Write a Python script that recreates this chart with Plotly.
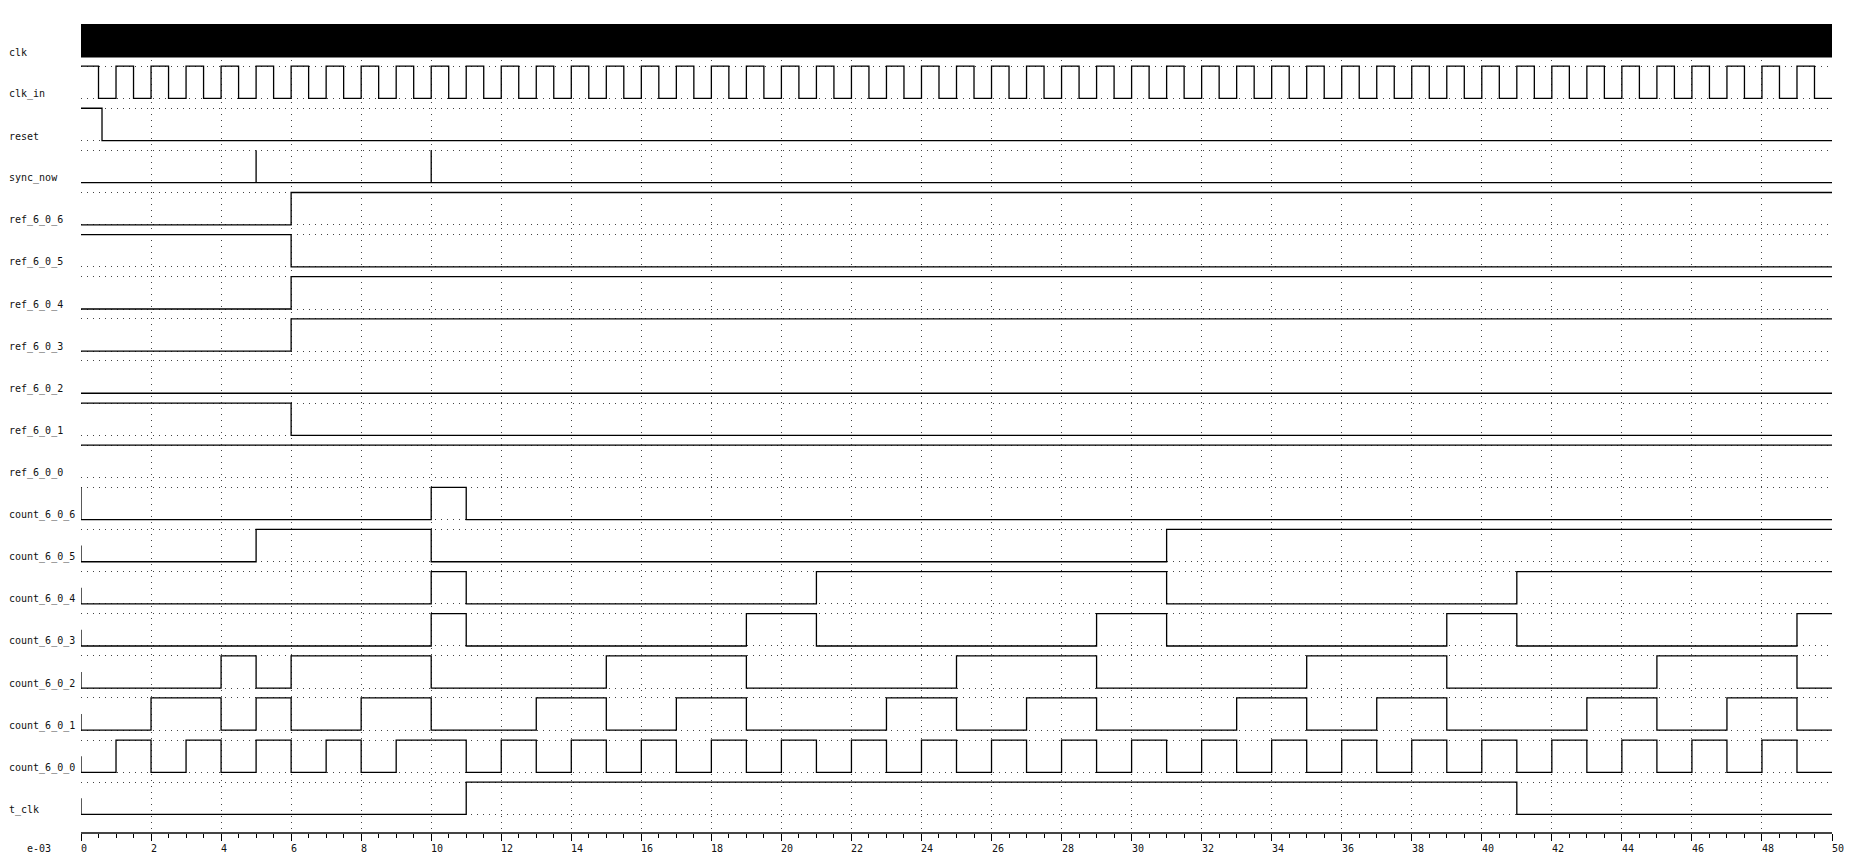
import plotly.graph_objects as go

# ---------------- data ----------------
signal_names = ["clk", "clk_in", "reset", "sync_now",
                "ref_6_0_6", "ref_6_0_5", "ref_6_0_4", "ref_6_0_3",
                "ref_6_0_2", "ref_6_0_1", "ref_6_0_0",
                "count_6_0_6", "count_6_0_5", "count_6_0_4", "count_6_0_3",
                "count_6_0_2", "count_6_0_1", "count_6_0_0", "t_clk"]

time_tick_labels = [0, 2, 4, 6, 8, 10, 12, 14, 16, 18, 20, 22, 24, 26, 28, 30,
                    32, 34, 36, 38, 40, 42, 44, 46, 48, 50]
time_unit_label = "e-03"
time_range = [0, 50]

# clk toggles far too fast to resolve: drawn as a solid band over this span
clk_t = [0, 50]

clk_in_t = [0, 0.5, 1, 1.5, 2, 2.5, 3, 3.5, 4, 4.5, 5, 5.5, 6, 6.5, 7, 7.5, 8, 8.5, 9, 9.5,
            10, 10.5, 11, 11.5, 12, 12.5, 13, 13.5, 14, 14.5, 15, 15.5, 16, 16.5, 17, 17.5,
            18, 18.5, 19, 19.5, 20, 20.5, 21, 21.5, 22, 22.5, 23, 23.5, 24, 24.5, 25, 25.5,
            26, 26.5, 27, 27.5, 28, 28.5, 29, 29.5, 30, 30.5, 31, 31.5, 32, 32.5, 33, 33.5,
            34, 34.5, 35, 35.5, 36, 36.5, 37, 37.5, 38, 38.5, 39, 39.5, 40, 40.5, 41, 41.5,
            42, 42.5, 43, 43.5, 44, 44.5, 45, 45.5, 46, 46.5, 47, 47.5, 48, 48.5, 49, 49.5]
clk_in_v = [1, 0, 1, 0, 1, 0, 1, 0, 1, 0, 1, 0, 1, 0, 1, 0, 1, 0, 1, 0,
            1, 0, 1, 0, 1, 0, 1, 0, 1, 0, 1, 0, 1, 0, 1, 0, 1, 0, 1, 0,
            1, 0, 1, 0, 1, 0, 1, 0, 1, 0, 1, 0, 1, 0, 1, 0, 1, 0, 1, 0,
            1, 0, 1, 0, 1, 0, 1, 0, 1, 0, 1, 0, 1, 0, 1, 0, 1, 0, 1, 0,
            1, 0, 1, 0, 1, 0, 1, 0, 1, 0, 1, 0, 1, 0, 1, 0, 1, 0, 1, 0]

reset_t = [0, 0.6]
reset_v = [1, 0]

sync_now_t = [0, 5, 5, 10, 10]
sync_now_v = [0, 1, 0, 1, 0]

ref_6_0_6_t = [0, 6]
ref_6_0_6_v = [0, 1]
ref_6_0_5_t = [0, 6]
ref_6_0_5_v = [1, 0]
ref_6_0_4_t = [0, 6]
ref_6_0_4_v = [0, 1]
ref_6_0_3_t = [0, 6]
ref_6_0_3_v = [0, 1]
ref_6_0_2_t = [0]
ref_6_0_2_v = [0]
ref_6_0_1_t = [0, 6]
ref_6_0_1_v = [1, 0]
ref_6_0_0_t = [0]
ref_6_0_0_v = [1]

count_6_0_6_t = [0, 0, 10, 11]
count_6_0_6_v = [1, 0, 1, 0]
count_6_0_5_t = [0, 0, 5, 10, 31]
count_6_0_5_v = [0.5, 0, 1, 0, 1]
count_6_0_4_t = [0, 0, 10, 11, 21, 31, 41]
count_6_0_4_v = [0.5, 0, 1, 0, 1, 0, 1]
count_6_0_3_t = [0, 0, 10, 11, 19, 21, 29, 31, 39, 41, 49]
count_6_0_3_v = [0.5, 0, 1, 0, 1, 0, 1, 0, 1, 0, 1]
count_6_0_2_t = [0, 0, 4, 5, 6, 10, 15, 19, 25, 29, 35, 39, 45, 49]
count_6_0_2_v = [0.5, 0, 1, 0, 1, 0, 1, 0, 1, 0, 1, 0, 1, 0]
count_6_0_1_t = [0, 0, 2, 4, 5, 6, 8, 10, 13, 15, 17, 19, 23, 25, 27, 29, 33, 35, 37, 39,
                 43, 45, 47, 49]
count_6_0_1_v = [0.5, 0, 1, 0, 1, 0, 1, 0, 1, 0, 1, 0, 1, 0, 1, 0, 1, 0, 1, 0,
                 1, 0, 1, 0]
count_6_0_0_t = [0, 0, 1, 2, 3, 4, 5, 6, 7, 8, 9, 11, 12, 13, 14, 15, 16, 17, 18, 19,
                 20, 21, 22, 23, 24, 25, 26, 27, 28, 29, 30, 31, 32, 33, 34, 35, 36, 37,
                 38, 39, 40, 41, 42, 43, 44, 45, 46, 47, 48, 49]
count_6_0_0_v = [0.5, 0, 1, 0, 1, 0, 1, 0, 1, 0, 1, 0, 1, 0, 1, 0, 1, 0, 1, 0,
                 1, 0, 1, 0, 1, 0, 1, 0, 1, 0, 1, 0, 1, 0, 1, 0, 1, 0,
                 1, 0, 1, 0, 1, 0, 1, 0, 1, 0, 1, 0]
t_clk_t = [0, 0, 11, 41]
t_clk_v = [0.5, 0, 1, 0]

waves = {
    "clk_in": (clk_in_t, clk_in_v), "reset": (reset_t, reset_v),
    "sync_now": (sync_now_t, sync_now_v),
    "ref_6_0_6": (ref_6_0_6_t, ref_6_0_6_v), "ref_6_0_5": (ref_6_0_5_t, ref_6_0_5_v),
    "ref_6_0_4": (ref_6_0_4_t, ref_6_0_4_v), "ref_6_0_3": (ref_6_0_3_t, ref_6_0_3_v),
    "ref_6_0_2": (ref_6_0_2_t, ref_6_0_2_v), "ref_6_0_1": (ref_6_0_1_t, ref_6_0_1_v),
    "ref_6_0_0": (ref_6_0_0_t, ref_6_0_0_v),
    "count_6_0_6": (count_6_0_6_t, count_6_0_6_v), "count_6_0_5": (count_6_0_5_t, count_6_0_5_v),
    "count_6_0_4": (count_6_0_4_t, count_6_0_4_v), "count_6_0_3": (count_6_0_3_t, count_6_0_3_v),
    "count_6_0_2": (count_6_0_2_t, count_6_0_2_v), "count_6_0_1": (count_6_0_1_t, count_6_0_1_v),
    "count_6_0_0": (count_6_0_0_t, count_6_0_0_v), "t_clk": (t_clk_t, t_clk_v),
}

# ---------------- layout geometry (pixel-like y units) ----------------
W, H = 1855, 865
ML, MR, MT, MB = 81, 23, 24, 33
PH = H - MT - MB            # plot height in px
PW = W - ML - MR
PITCH = 42.12
ROW_H = 32.3
CLK_H = 33.0
LABEL_X_PX = 9
TEXT_PAD = -2               # compensate the annotation box padding

def row_top(i):
    return PITCH * i

def row_low(i):
    return row_top(i) + (CLK_H if i == 0 else ROW_H)

fig = go.Figure()

grid_y = []
for i, name in enumerate(signal_names):
    top = row_top(i)
    low = row_low(i)
    if name == "clk":
        fig.add_trace(go.Scatter(
            x=[clk_t[0], clk_t[1], clk_t[1], clk_t[0], clk_t[0]],
            y=[top, top, low, low, top],
            mode="lines", fill="toself", fillcolor="black",
            line=dict(color="black", width=1), hoverinfo="skip", showlegend=False))
    else:
        grid_y += [top, low]
        ts, vs = waves[name]
        xs = list(ts) + [time_range[1]]
        ys = [low - v * (low - top) for v in list(vs) + [vs[-1]]]
        fig.add_trace(go.Scatter(
            x=xs, y=ys, mode="lines", line_shape="hv",
            line=dict(color="black", width=1.3), hoverinfo="skip", showlegend=False))
    # signal label
    fig.add_annotation(
        x=(LABEL_X_PX - ML) / PW, xref="paper", y=low - 4.5, yref="y",
        text=name, showarrow=False, xanchor="left", yanchor="middle", xshift=TEXT_PAD,
        font=dict(family="DejaVu Sans Mono", size=10, color="#111"))

# time tick labels (left-aligned at their tick)
label_y_paper = (H - MB - 848) / PH
for t in time_tick_labels:
    fig.add_annotation(
        x=t, xref="x", y=label_y_paper, yref="paper", text=str(t),
        showarrow=False, xanchor="left", yanchor="middle", xshift=TEXT_PAD,
        font=dict(family="DejaVu Sans Mono", size=10, color="#111"))
fig.add_annotation(
    x=(27 - ML) / PW, xref="paper", y=label_y_paper, yref="paper", text=time_unit_label,
    showarrow=False, xanchor="left", yanchor="middle", xshift=TEXT_PAD,
    font=dict(family="DejaVu Sans Mono", size=10, color="#111"))

fig.update_layout(
    width=W, height=H, autosize=False,
    margin=dict(l=ML, r=MR, t=MT, b=MB, pad=0),
    paper_bgcolor="white", plot_bgcolor="white",
    hovermode=False, showlegend=False,
    xaxis=dict(
        range=time_range, tick0=0, dtick=2, showticklabels=False,
        ticks="outside", ticklen=7, tickwidth=1, tickcolor="black",
        showgrid=True, gridcolor="#444", gridwidth=1, griddash="1px,5px",
        zeroline=False, showline=True, linecolor="#444", linewidth=2,
        minor=dict(dtick=0.5, tick0=0, ticks="outside", ticklen=4, tickwidth=1,
                   tickcolor="black", showgrid=False),
        fixedrange=True),
    yaxis=dict(
        range=[PH, 0], tickmode="array", tickvals=grid_y, showticklabels=False,
        ticks="", showgrid=True, gridcolor="#444", gridwidth=1, griddash="1px,5px",
        zeroline=False, showline=False, fixedrange=True),
)

fig.write_html("out.html", config={"displayModeBar": False, "staticPlot": True})
